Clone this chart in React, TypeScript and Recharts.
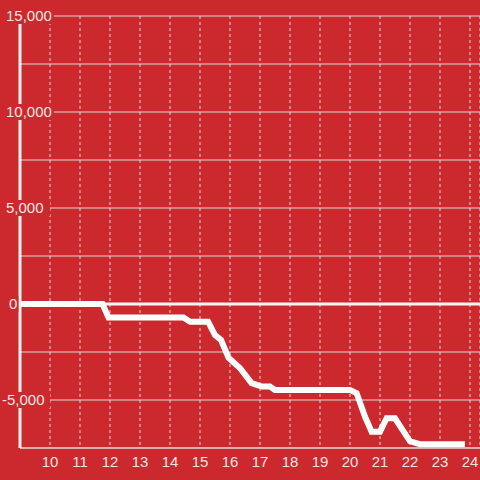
import React from "react";
import {
  LineChart,
  Line,
  XAxis,
  YAxis,
  CartesianGrid,
  ReferenceLine,
} from "recharts";

// hour of day (decimal) and running total
const hours = [
  9, 11.75, 11.95, 14.45, 14.67, 15.27, 15.5, 15.7, 15.95, 16.33, 16.72, 17.06,
  17.33, 17.5, 20.0, 20.22, 20.5, 20.72, 21.0, 21.22, 21.5, 22.0, 22.33, 23.83,
];
const totals = [
  0, 0, -700, -700, -920, -920, -1620, -1870, -2800, -3330, -4120, -4300,
  -4300, -4480, -4480, -4640, -5870, -6650, -6650, -5950, -5950, -7150, -7300,
  -7300,
];
const xTicks = [10, 11, 12, 13, 14, 15, 16, 17, 18, 19, 20, 21, 22, 23, 24];
const yTicks = [-7500, -5000, -2500, 0, 2500, 5000, 7500, 10000, 12500, 15000];
const labelledTicks = [-5000, 0, 5000, 10000, 15000];

const data = hours.map((h, i) => ({ hour: h, total: totals[i] }));

const BG = "#cc292e";
const TEXT = "#f2e4e4";
const GRID = "#d9d9d9";

const YTick = (props: any) => {
  const { x, y, payload } = props;
  const v = payload.value;
  if (!labelledTicks.includes(v)) return <g />;
  const label = v.toLocaleString("en-US");
  let w = 0;
  for (const ch of label) w += ch === "," ? 4.2 : ch === "-" ? 5 : 8.34;
  const start = x - (v < 0 ? 18 : v === 0 ? 11 : 14);
  const bgEnd = v === 0 ? start + w + 1 : Math.max(start + w + 2, x + 30);
  return (
    <g>
      <rect x={start - 1} y={y - 8} width={bgEnd - start + 1} height={16} fill={BG} />
      <text x={start} y={y} dy="0.36em" textAnchor="start" fill={TEXT} fontSize={15}>
        {label}
      </text>
    </g>
  );
};

export default function App() {
  return (
    <div
      style={{
        position: "fixed",
        left: 0,
        top: 0,
        width: 480,
        height: 480,
        background: BG,
        fontFamily: "'Liberation Sans', Arial, sans-serif",
      }}
    >
      <LineChart
        width={480}
        height={480}
        data={data}
        margin={{ top: 16, right: 0, bottom: 0, left: 0 }}
      >
        <CartesianGrid horizontal={false} stroke={GRID} strokeDasharray="3 3" />
        <CartesianGrid vertical={false} stroke={GRID} />
        <ReferenceLine y={0} stroke="#f4f4f4" strokeWidth={3} />
        <Line
          type="linear"
          dataKey="total"
          stroke="#ffffff"
          strokeWidth={6}
          dot={false}
          isAnimationActive={false}
        />
        <XAxis
          dataKey="hour"
          type="number"
          domain={[9, 24.3333]}
          ticks={xTicks}
          allowDataOverflow
          height={32}
          tickLine={false}
          tickSize={6}
          tickMargin={2}
          axisLine={{ stroke: "#e2e2e2" }}
          tick={{ fill: TEXT, fontSize: 15 }}
        />
        <YAxis
          type="number"
          domain={[-7500, 15000]}
          ticks={yTicks}
          width={20}
          tickLine={false}
          tickSize={0}
          tickMargin={0}
          axisLine={{ stroke: "#f2f2f2", strokeWidth: 3 }}
          tick={<YTick />}
        />
      </LineChart>
    </div>
  );
}
